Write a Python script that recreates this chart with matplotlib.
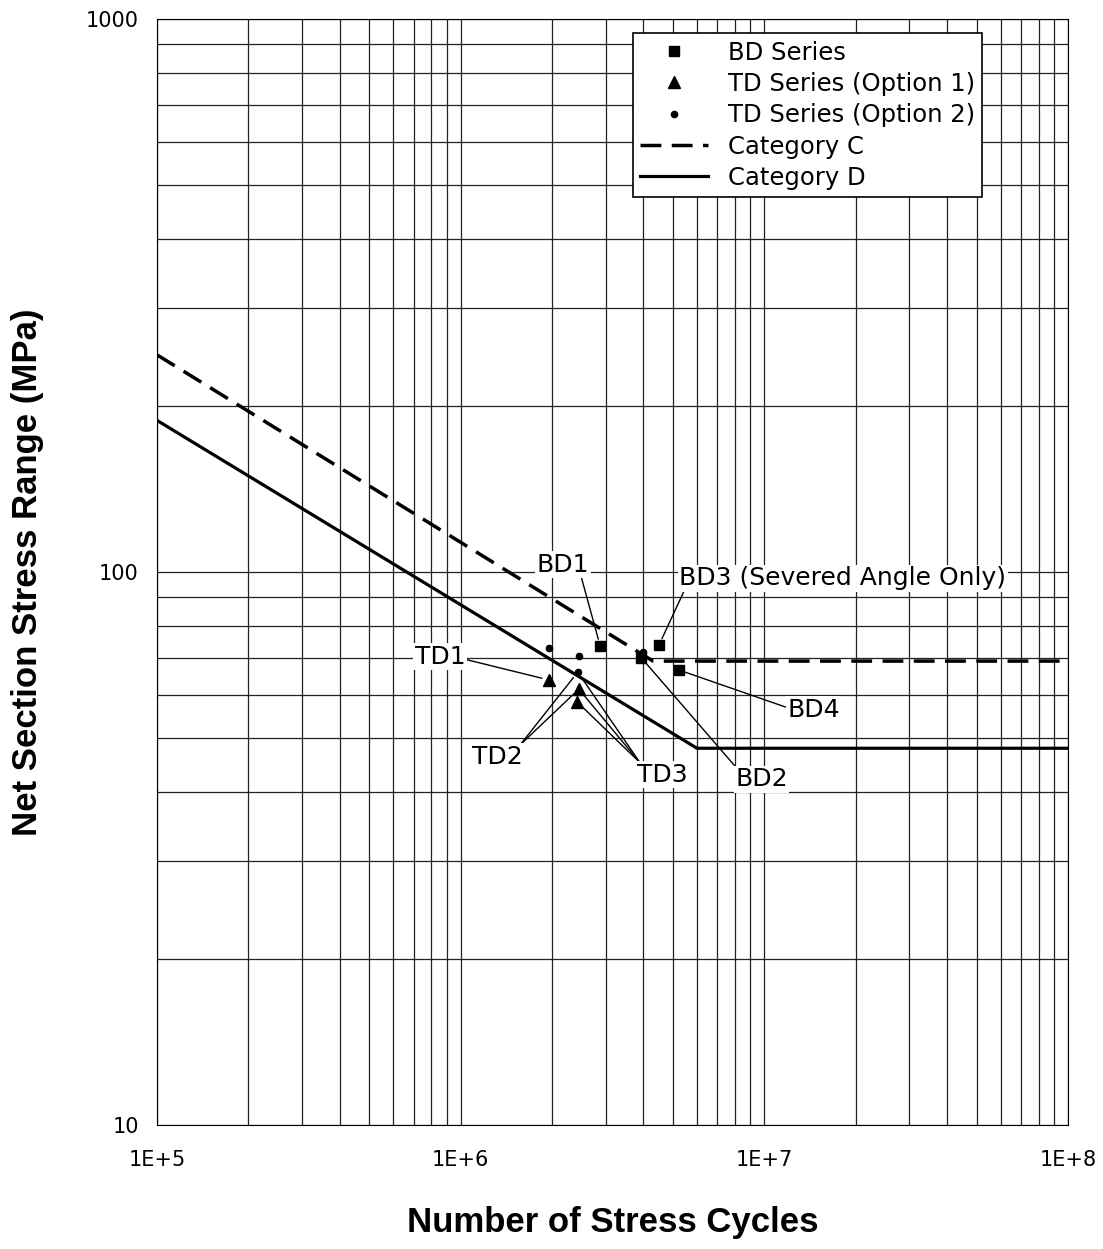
import matplotlib.pyplot as plt
from matplotlib.ticker import LogLocator, FixedLocator, NullFormatter

# data
bd_n = [2.88e6, 3.94e6, 4.50e6, 5.23e6]
bd_s = [73.5, 69.9, 73.8, 66.5]
td1_n = [1.95e6, 2.45e6, 2.42e6]
td1_s = [63.8, 61.4, 58.2]
td2_n = [1.95e6, 2.45e6, 2.43e6, 3.98e6]
td2_s = [72.9, 70.5, 65.9, 71.7]
catc_n = [1e5, 4.3e6, 1e8]
catc_s = [247, 69, 69]
catd_n = [1e5, 6.0e6, 1e8]
catd_s = [188, 48, 48]

x_ticks = [1e5, 1e6, 1e7, 1e8]
x_ticklabels = ['1E+5', '1E+6', '1E+7', '1E+8']
y_ticks = [10, 100, 1000]
y_ticklabels = ['10', '100', '1000']

plt.rcParams['font.family'] = ['DejaVu Sans']

fig = plt.figure(figsize=(11.03, 12.49), dpi=100)
ax = fig.add_axes([0.1423, 0.0993, 0.8260, 0.8855])

ax.set_xscale('log')
ax.set_yscale('log')
ax.set_xlim(1e5, 1e8)
ax.set_ylim(10, 1000)

ax.grid(True, which='both', color='#222222', linewidth=0.9)
ax.set_axisbelow(True)

ax.plot(catc_n, catc_s, color='black', linestyle=(0, (6, 3)), linewidth=2.5, label='Category C')
ax.plot(catd_n, catd_s, color='black', linestyle='-', linewidth=2.3, label='Category D')
ax.plot(bd_n, bd_s, 's', color='black', markersize=7, linestyle='none', label='BD Series')
ax.plot(td1_n, td1_s, '^', color='black', markersize=8, linestyle='none', label='TD Series (Option 1)')
ax.plot(td2_n, td2_s, 'o', color='black', markersize=4.5, linestyle='none', label='TD Series (Option 2)')

ax.xaxis.set_major_locator(FixedLocator(x_ticks))
ax.set_xticklabels(x_ticklabels)
ax.yaxis.set_major_locator(FixedLocator(y_ticks))
ax.set_yticklabels(y_ticklabels)
ax.xaxis.set_minor_locator(LogLocator(base=10, subs=range(2, 10)))
ax.yaxis.set_minor_locator(LogLocator(base=10, subs=range(2, 10)))
ax.xaxis.set_minor_formatter(NullFormatter())
ax.yaxis.set_minor_formatter(NullFormatter())
ax.tick_params(which='both', length=0, labelsize=15)
ax.tick_params(axis='x', pad=18)
ax.tick_params(axis='y', pad=13)

ax.set_xlabel('Number of Stress Cycles', fontsize=25, fontweight='bold',
              family='Liberation Sans', labelpad=26)
ax.set_ylabel('Net Section Stress Range (MPa)', fontsize=25, fontweight='bold',
              family='Liberation Sans', labelpad=30)

# annotations: (label, point, text position, leader start in text box)
box = dict(facecolor='white', edgecolor='none', pad=1)
ann = [
    ('BD1', (2.88e6, 73.5), (2.17e6, 103), (0.85, 0.0)),
    ('BD3 (Severed Angle Only)', (4.5e6, 73.8), (1.81e7, 97.5), (0.02, 0.1)),
    ('BD4', (5.23e6, 66.5), (1.45e7, 56.3), (0.0, 0.6)),
    ('BD2', (3.94e6, 69.9), (9.8e6, 42.2), (0.05, 0.9)),
    ('TD1', (1.95e6, 63.8), (8.55e5, 70.2), (1.0, 0.4)),
    ('TD2', (2.43e6, 65.9), (1.32e6, 46.3), (0.95, 1.0)),
    ('TD2', (2.45e6, 61.4), (1.32e6, 46.3), (0.95, 1.0)),
    ('TD3', (2.43e6, 65.9), (4.63e6, 43.0), (0.05, 1.0)),
    ('TD3', (2.45e6, 61.4), (4.63e6, 43.0), (0.05, 1.0)),
    ('TD3', (2.42e6, 58.2), (4.63e6, 43.0), (0.05, 1.0)),
]
for txt, xy, xt, rp in ann:
    ax.annotate(txt, xy=xy, xytext=xt, fontsize=18, ha='center', va='center',
                bbox=box,
                arrowprops=dict(arrowstyle='-', color='black', linewidth=1,
                                shrinkA=0, shrinkB=5, relpos=rp))

handles, labels = ax.get_legend_handles_labels()
order = [2, 3, 4, 0, 1]
leg = ax.legend([handles[i] for i in order], [labels[i] for i in order],
                loc='upper right', bbox_to_anchor=(0.9056, 0.987), borderaxespad=0,
                fontsize=17.5, frameon=True, fancybox=False, edgecolor='black',
                framealpha=1, handlelength=2.8, borderpad=0.3, labelspacing=0.3)
leg.get_frame().set_linewidth(1.2)

fig.savefig('out.png', dpi=100)
